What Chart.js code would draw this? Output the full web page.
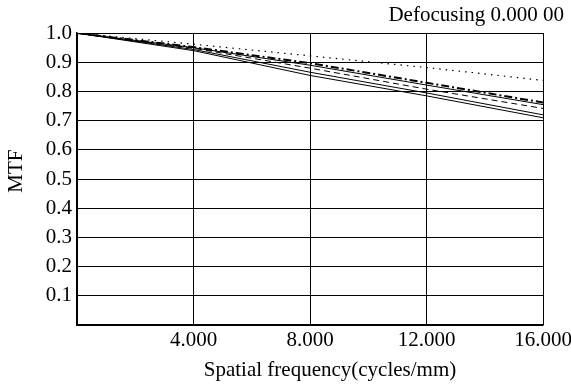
<!DOCTYPE html>
<html>
<head>
<meta charset="utf-8">
<script src="https://cdn.jsdelivr.net/npm/chart.js@4.4.0/dist/chart.umd.min.js"></script>
<style>
  body { margin: 0; background: #fff; }
  #mtf { display: block; }
</style>
</head>
<body>
<canvas id="mtf" width="571" height="386"></canvas>
<script>
// spatial frequency samples (cycles/mm)
let freqs = [0, 4, 8, 12, 16];

// MTF curves
let mtfDotted   = [1.0, 0.962, 0.922, 0.882, 0.838];
let mtfBold     = [1.0, 0.952, 0.897, 0.830, 0.762];
let mtfSolidA   = [1.0, 0.950, 0.890, 0.822, 0.755];
let mtfDashed   = [1.0, 0.948, 0.880, 0.808, 0.742];
let mtfSolidB   = [1.0, 0.944, 0.866, 0.795, 0.720];
let mtfSolidC   = [1.0, 0.940, 0.855, 0.785, 0.710];

let xTitle = "Spatial frequency(cycles/mm)";
let yTitle = "MTF";

const fontFam = "'Liberation Serif', 'Times New Roman', serif";
const fontSize = 21;

function toPoints(vals) {
    return vals.map((v, i) => ({ x: freqs[i], y: v }));
}

function line(vals, width, dash) {
    return {
        data: toPoints(vals),
        borderColor: "#000",
        borderWidth: width,
        borderDash: dash,
        pointRadius: 0,
        fill: false,
        tension: 0
    };
}

// axis titles sit a little off-centre in the original, so draw them by hand
const axisTitles = {
    id: "axisTitles",
    afterDraw(chart) {
        const ctx = chart.ctx;
        const area = chart.chartArea;
        ctx.save();
        ctx.fillStyle = "#000";
        ctx.font = fontSize + "px " + fontFam;
        ctx.textAlign = "center";
        ctx.textBaseline = "alphabetic";
        ctx.fillText(xTitle, (area.left + area.right) / 2 + 20, 376);

        ctx.translate(16, (area.top + area.bottom) / 2 - 8);
        ctx.rotate(-Math.PI / 2);
        ctx.textBaseline = "middle";
        ctx.fillText(yTitle, 0, 0);
        ctx.restore();
    }
};

var MtfChart = new Chart("mtf", {
    type: "line",
    data: {
        datasets: [
            line(mtfDotted, 1.2, [1.5, 5]),
            line(mtfBold, 2, [8, 3, 2, 3]),
            line(mtfSolidA, 1, []),
            line(mtfDashed, 1, [6, 4]),
            line(mtfSolidB, 1, []),
            line(mtfSolidC, 1, [])
        ]
    },
    plugins: [axisTitles],
    options: {
        responsive: false,
        animation: false,
        layout: {
            padding: { left: 4, right: 7, top: 0, bottom: 0 }
        },
        plugins: {
            legend: { display: false },
            tooltip: { enabled: false },
            title: {
                display: true,
                text: "Defocusing 0.000 00",
                align: "end",
                color: "#000",
                font: { family: fontFam, size: fontSize, weight: "normal", lineHeight: 1.1 },
                padding: { top: 4, bottom: 6 }
            }
        },
        scales: {
            x: {
                type: "linear",
                min: 0,
                max: 16,
                border: { color: "#000", width: 1.5 },
                grid: { color: "#000", lineWidth: 1, drawTicks: false },
                ticks: {
                    stepSize: 4,
                    padding: 3,
                    color: "#000",
                    maxRotation: 0,
                    font: { family: fontFam, size: fontSize },
                    callback: v => v === 0 ? "" : v.toFixed(3)
                },
                afterFit: s => {
                    s.height = 61;
                    s.paddingLeft = 0;
                    s.paddingRight = 28;
                }
            },
            y: {
                min: 0,
                max: 1,
                border: { color: "#000", width: 1.5 },
                grid: { color: "#000", lineWidth: 1, drawTicks: false },
                ticks: {
                    stepSize: 0.1,
                    padding: 5,
                    color: "#000",
                    font: { family: fontFam, size: fontSize },
                    callback: v => Math.round(v * 10) === 0 ? "" : (Math.round(v * 10) / 10).toFixed(1)
                },
                afterFit: s => { s.width = 73; }
            }
        }
    }
});
</script>
</body>
</html>
